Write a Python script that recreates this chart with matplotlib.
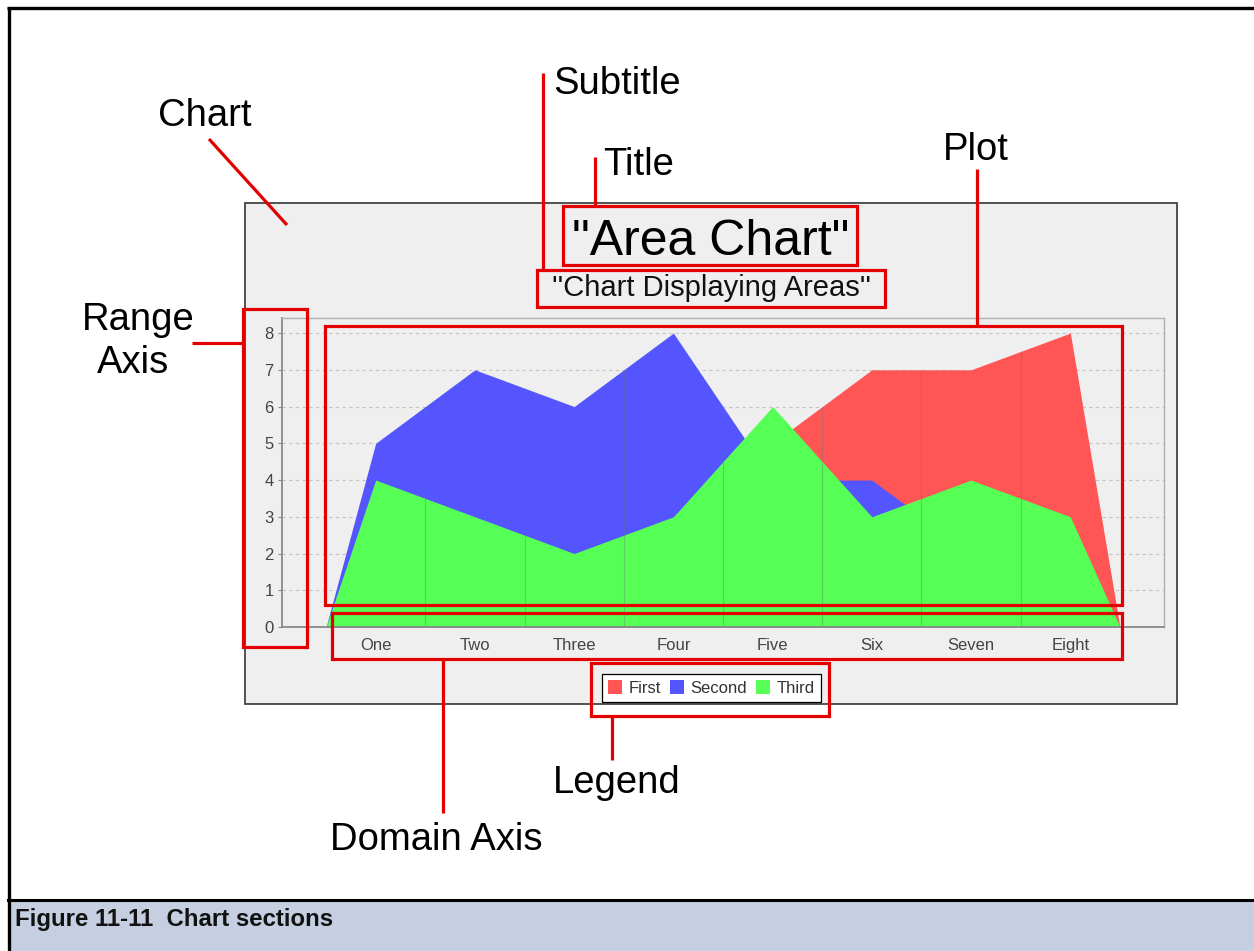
import matplotlib
matplotlib.use('Agg')
import matplotlib.pyplot as plt
from matplotlib.patches import Rectangle, Patch
import numpy as np

plt.rcParams['font.family'] = ['Liberation Sans', 'DejaVu Sans']

# data of the area chart
categories = ['One', 'Two', 'Three', 'Four', 'Five', 'Six', 'Seven', 'Eight']
series_names = ['First', 'Second', 'Third']
first = [1, 4, 3, 5, 5, 7, 7, 8]
second = [5, 7, 6, 8, 4, 4, 2, 1]
third = [4, 3, 2, 3, 6, 3, 4, 3]
y_ticks = [0, 1, 2, 3, 4, 5, 6, 7, 8]
colors = ['#ff5555', '#5555ff', '#55ff55']

W, H = 1254, 951
fig = plt.figure(figsize=(W / 100, H / 100), dpi=100)


def px_box(x0, y0, x1, y1):
    # pixel box (top-left origin) -> figure fraction rect
    return [x0 / W, 1 - y1 / H, (x1 - x0) / W, (y1 - y0) / H]


# background: page border, caption band, chart panel, titles
bg = fig.add_axes([0, 0, 1, 1], zorder=0)
bg.set_xlim(0, W)
bg.set_ylim(H, 0)
bg.axis('off')

bg.add_patch(Rectangle((8, 900), W, 60, facecolor='#c5cfe1', edgecolor='none'))
bg.plot([8, W], [900, 900], color='black', lw=2.2)
bg.plot([8.5, 8.5], [7, H], color='black', lw=2.4, solid_capstyle='butt')
bg.plot([7.3, W], [7.5, 7.5], color='black', lw=2.4, solid_capstyle='butt')
bg.text(15, 926, 'Figure 11-11  Chart sections', fontsize=17.3, fontweight='bold',
        ha='left', va='baseline', color='#111111')

bg.add_patch(Rectangle((245, 203), 1177 - 245, 704 - 203, facecolor='#efefef',
                       edgecolor='#444444', lw=1.3))
bg.text(711, 255, '"Area Chart"', fontsize=36, ha='center', va='baseline', color='black')
bg.text(711, 296, "''Chart Displaying Areas''", fontsize=21, ha='center', va='baseline',
        color='#111111')

# the plot itself
ax = fig.add_axes(px_box(282, 318, 1164, 627), zorder=1)
ax.set_facecolor('#efefef')
x = np.arange(len(categories))
xs = np.concatenate([[-0.5], x, [len(categories) - 0.5]])
bounds = x[:-1] + 0.5
for i, (vals, c) in enumerate(zip([first, second, third], colors)):
    ys = np.concatenate([[0], vals, [0]])
    ax.fill_between(xs, 0, ys, color=c, lw=0, zorder=2 + i)
    # faint seams between category segments
    ax.vlines(bounds, 0, np.interp(bounds, xs, ys), color='#707070', alpha=0.35,
              lw=0.8, zorder=2.5 + i)

ax.set_xlim(-0.944, 7.944)
ax.set_ylim(0, 8.41)
ax.set_yticks(y_ticks)
ax.set_xticks(x, categories)
ax.yaxis.grid(True, color='#c4c4c4', ls=(0, (3, 3)), lw=0.8)
ax.set_axisbelow(True)
ax.tick_params(axis='x', length=0, pad=8, labelsize=12, labelcolor='#444444')
ax.tick_params(axis='y', length=3, color='#888888', pad=3, labelsize=12,
               labelcolor='#444444')
for side in ['left', 'bottom']:
    ax.spines[side].set_color('#888888')
    ax.spines[side].set_linewidth(1.3)
for side in ['top', 'right']:
    ax.spines[side].set_color('#b0b0b0')
    ax.spines[side].set_linewidth(1.0)
for s in ax.spines.values():
    s.set_zorder(10)

handles = [Patch(facecolor=c, edgecolor='none') for c in colors]
leg = fig.legend(handles, series_names, loc='center', bbox_to_anchor=(711.5 / W, 1 - 688 / H),
                 ncol=3, frameon=True, fancybox=False, edgecolor='black', facecolor='white',
                 framealpha=1, fontsize=12, handlelength=0.84, handleheight=0.84,
                 handletextpad=0.4, columnspacing=0.55, borderpad=0.35, borderaxespad=0)
leg.get_frame().set_linewidth(0.9)
for t in leg.get_texts():
    t.set_color('#333333')

# annotation overlay
ov = fig.add_axes([0, 0, 1, 1], zorder=3)
ov.set_xlim(0, W)
ov.set_ylim(H, 0)
ov.axis('off')
ov.patch.set_visible(False)

red = '#e30000'
boxes = [(563, 206, 857, 265), (537, 270, 885, 307), (325, 326, 1122, 605),
         (243, 309, 307, 647), (332, 613, 1122, 659), (591, 663, 829, 716)]
for x0, y0, x1, y1 in boxes:
    ov.add_patch(Rectangle((x0, y0), x1 - x0, y1 - y0, fill=False, ec=red, lw=2.3))

leaders = [((209, 139), (287, 225)), ((543, 73), (543, 270)), ((595, 157), (595, 206)),
           ((977, 169), (977, 326)), ((192, 343), (243, 343)), ((443, 659), (443, 813)),
           ((612, 716), (612, 760))]
for (x0, y0), (x1, y1) in leaders:
    ov.plot([x0, x1], [y0, y1], color=red, lw=2.3, solid_capstyle='butt')

labels = [('Chart', 158, 126, 'left'), ('Subtitle', 553, 94, 'left'), ('Title', 603, 175, 'left'),
          ('Plot', 943, 160, 'left'), ('Range', 138, 330, 'center'), ('Axis', 133, 373, 'center'),
          ('Domain Axis', 330, 850, 'left'), ('Legend', 553, 793, 'left')]
for txt, tx, ty, ha in labels:
    ov.text(tx, ty, txt, fontsize=27.5, ha=ha, va='baseline', color='black')

fig.savefig('out.png', dpi=100)
